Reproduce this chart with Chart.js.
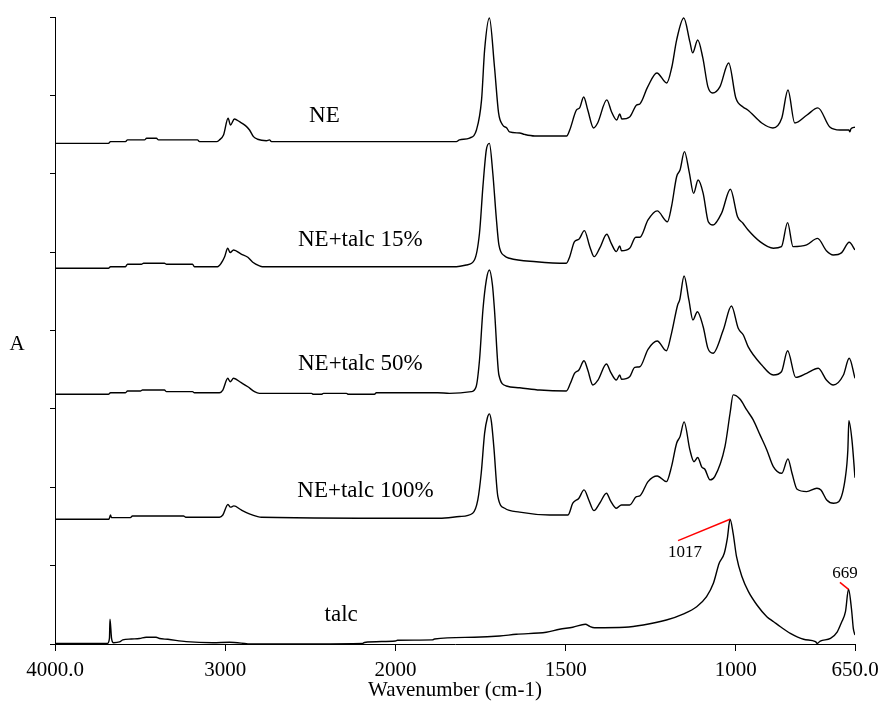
<!DOCTYPE html>
<html>
<head>
<meta charset="utf-8">
<title>FTIR spectra: NE, NE+talc and talc</title>
<script src="https://cdn.jsdelivr.net/npm/chart.js@4/dist/chart.umd.min.js"></script>
<style>
  html, body { margin: 0; padding: 0; background: #fff; }
  #wrap { width: 883px; height: 707px; position: relative; }
</style>
</head>
<body>
<div id="wrap"><canvas id="ftir" width="883" height="707"></canvas></div>
<script>
// ---- Spectra (wavenumber in cm-1, absorbance above each trace's own baseline) ----
const seriesNames = ['NE', 'NE+talc 15%', 'NE+talc 50%', 'NE+talc 100%', 'talc'];

// vertical stacking shift of each trace (absorbance units)
const stackOffsets = [3.19, 2.397, 1.593, 0.796, 0];

const neWave = [4000, 3686, 3674, 3586, 3574, 3474, 3462, 3404, 3392, 3163, 3151, 3051, 3034, 3010,
  2983, 2969, 2946, 2916, 2881, 2857, 2834, 2810, 2758, 2740, 2728, 1821, 1812, 1782, 1762, 1747,
  1738, 1724, 1709, 1697, 1685, 1673, 1665, 1635, 1621, 1591, 1497, 1488, 1468, 1459, 1447, 1435,
  1418, 1406, 1379, 1365, 1350, 1341, 1335, 1312, 1291, 1282, 1259, 1232, 1203, 1188, 1174, 1153,
  1135, 1127, 1112, 1097, 1082, 1068, 1047, 1021, 1000, 979, 965, 924, 891, 865, 847, 827, 791,
  759, 724, 694, 668, 665, 662, 650];
const neAbs = [0.004, 0.004, 0.015, 0.015, 0.026, 0.026, 0.036, 0.036, 0.026, 0.026, 0.015, 0.015, 0.026, 0.057,
  0.164, 0.121, 0.159, 0.142, 0.117, 0.089, 0.047, 0.030, 0.021, 0.026, 0.015, 0.015, 0.026, 0.038, 0.089, 0.281,
  0.600, 0.804, 0.491, 0.198, 0.121, 0.102, 0.077, 0.070, 0.061, 0.051, 0.051, 0.089, 0.217, 0.230, 0.300, 0.217,
  0.102, 0.134, 0.281, 0.204, 0.153, 0.191, 0.159, 0.172, 0.249, 0.255, 0.364, 0.453, 0.389, 0.491, 0.663, 0.804,
  0.651, 0.581, 0.663, 0.549, 0.364, 0.325, 0.364, 0.517, 0.293, 0.236, 0.217, 0.134, 0.102, 0.166, 0.344, 0.134, 0.185,
  0.230, 0.108, 0.089, 0.089, 0.077, 0.096, 0.107];

const ne15Wave = [4000, 3686, 3674, 3586, 3574, 3492, 3480, 3357, 3345, 3192, 3181, 3045, 3024, 3004, 2985,
  2971, 2951, 2906, 2867, 2838, 2799, 2781, 1821, 1792, 1768, 1753, 1743, 1733, 1724, 1714,
  1704, 1696, 1679, 1665, 1586, 1498, 1488, 1474, 1461, 1445, 1429, 1416, 1400, 1379, 1366,
  1351, 1341, 1336, 1312, 1294, 1282, 1258, 1231, 1201, 1189, 1174, 1164, 1151, 1137, 1124,
  1111, 1096, 1081, 1067, 1042, 1016, 995, 979, 964, 929, 890, 866, 848, 832, 792,
  760, 734, 714, 689, 667, 650];
const ne15Abs = [0, 0, 0.010, 0.010, 0.026, 0.026, 0.032, 0.032, 0.026, 0.026, 0.010, 0.010, 0.032, 0.072, 0.128,
  0.100, 0.117, 0.091, 0.070, 0.038, 0.015, 0.010, 0.010, 0.021, 0.053, 0.225, 0.521, 0.755, 0.797, 0.608,
  0.329, 0.149, 0.078, 0.064, 0.042, 0.032, 0.074, 0.170, 0.185, 0.240, 0.138, 0.074, 0.128, 0.217, 0.159,
  0.106, 0.142, 0.112, 0.128, 0.198, 0.198, 0.308, 0.366, 0.297, 0.393, 0.584, 0.627, 0.744, 0.614, 0.478,
  0.563, 0.478, 0.297, 0.276, 0.351, 0.504, 0.329, 0.287, 0.244, 0.170, 0.128, 0.138, 0.291, 0.138, 0.149,
  0.191, 0.112, 0.085, 0.100, 0.166, 0.117];

const ne50Wave = [4000, 3686, 3674, 3586, 3574, 3498, 3486, 3357, 3345, 3192, 3181, 3034, 3014, 2985, 2971,
  2951, 2906, 2867, 2828, 2799, 2493, 2482, 2435, 2423, 2288, 2276, 2123, 2112, 1876, 1841,
  1777, 1763, 1753, 1743, 1733, 1724, 1715, 1709, 1696, 1674, 1635, 1576, 1498, 1486, 1474,
  1461, 1446, 1435, 1420, 1405, 1380, 1368, 1351, 1341, 1336, 1312, 1297, 1282, 1258, 1231,
  1204, 1189, 1171, 1165, 1152, 1138, 1126, 1113, 1096, 1082, 1067, 1037, 1013, 993, 978,
  964, 924, 890, 866, 848, 824, 792, 758, 734, 714, 684, 667, 650];
const ne50Abs = [0, 0, 0.010, 0.010, 0.021, 0.021, 0.027, 0.027, 0.017, 0.017, 0.010, 0.010, 0.027, 0.102, 0.080,
  0.102, 0.074, 0.048, 0.017, 0.006, 0.006, 0, 0, 0.006, 0.006, 0, 0, 0.010, 0.010, 0.006,
  0.017, 0.048, 0.219, 0.538, 0.729, 0.793, 0.697, 0.538, 0.123, 0.053, 0.042, 0.027, 0.021, 0.070, 0.134,
  0.155, 0.214, 0.155, 0.059, 0.091, 0.193, 0.142, 0.091, 0.123, 0.096, 0.112, 0.172, 0.176, 0.287, 0.340,
  0.278, 0.389, 0.570, 0.602, 0.755, 0.602, 0.474, 0.527, 0.431, 0.293, 0.262, 0.410, 0.563, 0.421, 0.378,
  0.304, 0.187, 0.123, 0.144, 0.278, 0.108, 0.134, 0.166, 0.091, 0.059, 0.123, 0.230, 0.102];

const ne100Wave = [4000, 3683, 3674, 3668, 3557, 3545, 3245, 3233, 3034, 3014, 2984, 2969, 2949, 2906, 2858,
  2809, 2787, 1871, 1812, 1773, 1758, 1748, 1738, 1730, 1724, 1718, 1711, 1699, 1679, 1635,
  1547, 1493, 1479, 1461, 1446, 1432, 1417, 1400, 1380, 1368, 1351, 1336, 1312, 1292, 1282,
  1258, 1231, 1204, 1189, 1174, 1164, 1152, 1135, 1123, 1112, 1100, 1091, 1076, 1062, 1032,
  1017, 1008, 988, 968, 949, 929, 909, 890, 865, 847, 835, 820, 792, 762, 750,
  733, 713, 698, 678, 671, 668, 659, 650];
const ne100Abs = [0, 0, 0.027, 0.010, 0.010, 0.021, 0.021, 0.013, 0.013, 0.027, 0.094, 0.077, 0.085, 0.059, 0.034,
  0.017, 0.013, 0.006, 0.017, 0.038, 0.123, 0.293, 0.549, 0.646, 0.672, 0.621, 0.463, 0.144, 0.070, 0.045,
  0.027, 0.027, 0.102, 0.134, 0.187, 0.123, 0.055, 0.102, 0.166, 0.117, 0.070, 0.091, 0.091, 0.144, 0.149,
  0.240, 0.276, 0.240, 0.336, 0.485, 0.527, 0.621, 0.442, 0.367, 0.394, 0.332, 0.319, 0.251, 0.272, 0.463,
  0.676, 0.793, 0.767, 0.697, 0.634, 0.538, 0.442, 0.336, 0.293, 0.385, 0.293, 0.191, 0.176, 0.198, 0.187,
  0.123, 0.102, 0.112, 0.272, 0.442, 0.629, 0.506, 0.265];

const talcWave = [4000, 3692, 3680, 3677, 3668, 3656, 3621, 3602, 3552, 3504, 3464, 3406, 3386, 3337, 3229,
  3073, 2975, 2838, 2192, 2182, 2000, 1994, 1891, 1885, 1768, 1694, 1645, 1557, 1518, 1479,
  1442, 1429, 1415, 1326, 1272, 1204, 1155, 1115, 1086, 1066, 1049, 1034, 1025, 1017, 1008,
  998, 982, 963, 938, 909, 889, 869, 840, 801, 766, 761, 752, 722, 702, 690,
  678, 669, 660, 655, 650];
const talcAbs = [0.004, 0.004, 0.038, 0.159, 0.038, 0.008, 0.013, 0.026, 0.032, 0.035, 0.043, 0.043, 0.035, 0.030, 0.015,
  0.008, 0.011, 0, 0.004, 0.010, 0.019, 0.024, 0.026, 0.032, 0.043, 0.051, 0.062, 0.075, 0.094, 0.107,
  0.126, 0.112, 0.104, 0.107, 0.121, 0.153, 0.191, 0.238, 0.302, 0.387, 0.515, 0.579, 0.674, 0.796, 0.706,
  0.557, 0.429, 0.334, 0.249, 0.174, 0.142, 0.110, 0.068, 0.030, 0.015, 0.004, 0.019, 0.036, 0.078, 0.136,
  0.206, 0.349, 0.217, 0.100, 0.057];

// talc bands called out on the bottom trace
const talcBands = [1017, 669];

// x axis: tick values and their printed labels
const xTickValues = [4000, 3000, 2000, 1500, 1000, 650];
const xTickLabels = ['4000.0', '3000', '2000', '1500', '1000', '650.0'];

// ---- Wavenumber axis: 4000-2000 compressed, 2000-650 at twice the scale ----
class SplitWaveScale extends Chart.LinearScale {
  static id = 'splitwave';
  static defaults = {};
  _frac(v) {
    const hi = this.max, lo = this.min, brk = 2000;
    const total = (hi - brk) + 2 * (brk - lo);
    return v >= brk ? (hi - v) / total : ((hi - brk) + 2 * (brk - v)) / total;
  }
  getPixelForValue(v) {
    return this.left + this._frac(v) * (this.right - this.left);
  }
  getValueForPixel(p) {
    const hi = this.max, lo = this.min, brk = 2000;
    const total = (hi - brk) + 2 * (brk - lo);
    const u = (p - this.left) / (this.right - this.left) * total;
    return u <= hi - brk ? hi - u : brk - (u - (hi - brk)) / 2;
  }
  buildTicks() {
    return xTickValues.map(v => ({ value: v }));
  }
}
Chart.register(SplitWaveScale);

function zipPoints(wave, abs, shift) {
  const n = Math.min(wave.length, abs.length);
  const pts = [];
  for (let i = 0; i < n; i++) pts.push({ x: wave[i], y: abs[i] + shift });
  return pts;
}

const spectra = [
  [neWave, neAbs], [ne15Wave, ne15Abs], [ne50Wave, ne50Abs], [ne100Wave, ne100Abs], [talcWave, talcAbs]
];

const datasets = spectra.map(([w, a], i) => ({
  label: seriesNames[i],
  data: zipPoints(w, a, stackOffsets[i]),
  borderColor: '#000',
  borderWidth: 1.4,
  pointRadius: 0,
  cubicInterpolationMode: 'monotone',
  fill: false
}));

// trace names: [wavenumber of text centre, height above the trace baseline]
const nameAnchors = [[2417, 0.140], [2206, 0.139], [2206, 0.155], [2176, 0.142], [2319, 0.149]];

const serif = '"Liberation Serif", "Times New Roman", serif';

const annotate = {
  id: 'annotate',
  afterDatasetsDraw(chart) {
    const { ctx, chartArea } = chart;
    const xs = chart.scales.x, ys = chart.scales.y;
    ctx.save();
    ctx.fillStyle = '#000';
    ctx.textAlign = 'center';
    ctx.textBaseline = 'alphabetic';

    // trace names
    ctx.font = '23px ' + serif;
    seriesNames.forEach((name, i) => {
      const [w, h] = nameAnchors[i];
      ctx.fillText(name, xs.getPixelForValue(w), ys.getPixelForValue(stackOffsets[i] + h));
    });

    // talc band call-outs, anchored on the talc peaks
    const ti = seriesNames.length - 1;
    const leaders = { 1017: { end: [-52, 21.4], text: [-45, 38] }, 669: { end: [-8.6, -7], text: [-3.6, -11.3] } };
    ctx.font = '17px ' + serif;
    talcBands.forEach(band => {
      const k = talcWave.indexOf(band);
      if (k < 0) return;
      const px = xs.getPixelForValue(band);
      const py = ys.getPixelForValue(talcAbs[k] + stackOffsets[ti]);
      const L = leaders[band];
      ctx.strokeStyle = '#ff0000';
      ctx.lineWidth = 1.5;
      ctx.beginPath();
      ctx.moveTo(px, py);
      ctx.lineTo(px + L.end[0], py + L.end[1]);
      ctx.stroke();
      ctx.fillText(String(band), px + L.text[0], py + L.text[1]);
    });

    // y axis title, upright
    ctx.font = '21px ' + serif;
    ctx.fillText('A', chartArea.left - 38, 350);
    ctx.restore();
  }
};

new Chart(document.getElementById('ftir'), {
  type: 'line',
  data: { datasets },
  plugins: [annotate],
  options: {
    responsive: false,
    animation: false,
    events: [],
    layout: { padding: { left: 0, right: 28, top: 17, bottom: 0 } },
    plugins: { legend: { display: false }, tooltip: { enabled: false } },
    scales: {
      x: {
        type: 'splitwave',
        min: 650,
        max: 4000,
        afterFit(s) { s.height = 63; },
        grid: { drawOnChartArea: false, drawTicks: true, tickLength: 7, color: '#000', lineWidth: 1 },
        border: { display: true, color: '#000', width: 1 },
        ticks: {
          autoSkip: false, maxRotation: 0, minRotation: 0, padding: 4,
          color: '#000', font: { family: serif, size: 21, lineHeight: 1.5 },
          callback: (v) => { const i = xTickValues.indexOf(v); return i >= 0 ? xTickLabels[i] : ''; }
        },
        title: {
          display: true, text: 'Wavenumber (cm-1)', color: '#000',
          font: { family: serif, size: 21 }, padding: { top: 0, bottom: 4 }
        }
      },
      y: {
        min: 0,
        max: 4,
        afterFit(s) { s.width = 55; },
        grid: { drawOnChartArea: false, drawTicks: true, tickLength: 5, color: '#000', lineWidth: 1 },
        border: { display: true, color: '#000', width: 1 },
        ticks: { stepSize: 0.5, display: false }
      }
    }
  }
});
</script>
</body>
</html>
